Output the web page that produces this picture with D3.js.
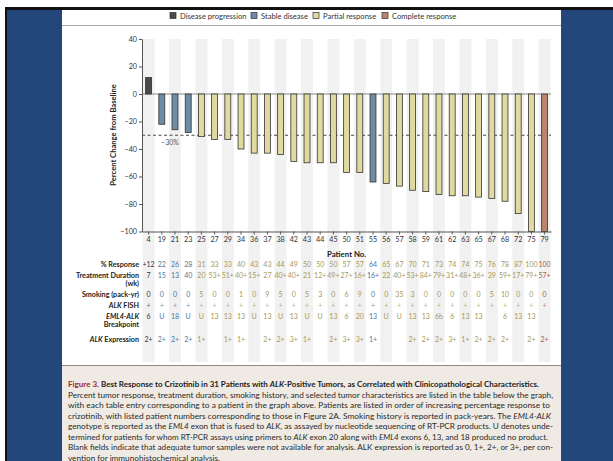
<!DOCTYPE html>
<html>
<head>
<meta charset="utf-8">
<script src="https://cdn.jsdelivr.net/npm/d3@7"></script>
<style>
  body { margin: 0; background: #fff; }
  svg { display: block; }
  text { font-family: Lato, "Open Sans", "DejaVu Sans", sans-serif; }
</style>
</head>
<body>
<svg id="fig" width="613" height="461"></svg>
<script>
// ---- Data -------------------------------------------------------------
const patients = ["4","19","21","23","25","27","29","34","36","37","38","42","43","44","45",
  "50","51","55","56","57","58","59","61","62","63","65","67","68","72","75","79"];
// Best percent change in tumour size from baseline
const percentChange = [12,-22,-26,-28,-31,-33,-33,-40,-43,-43,-44,-49,-50,-50,-50,
  -57,-57,-64,-65,-67,-70,-71,-73,-74,-74,-75,-76,-78,-87,-100,-100];
// PD = disease progression, SD = stable disease, PR = partial, CR = complete response
const outcome = ["PD","SD","SD","SD","PR","PR","PR","PR","PR","PR","PR","PR","PR","PR","PR",
  "PR","PR","SD","PR","PR","PR","PR","PR","PR","PR","PR","PR","PR","PR","PR","CR"];
const duration = ["7","15","13","40","20","53+","51+","40+","15+","27","40+","40+","21","12+","49+",
  "27+","16+","16+","22","40+","53+","84+","79+","31+","48+","36+","39","59+","17+","79+","57+"];
const smoking = ["0","0","0","0","5","0","0","1","0","9","5","0","5","3","0",
  "6","9","0","0","35","3","0","0","0","0","0","5","10","0","0","0"];
const alkFish = ["+","+","+","+","+","+","+","+","+","+","+","+","+","+","+",
  "+","+","+","+","+","+","+","+","+","+","+","+","+","+","+","+"];
const breakpoint = ["6","U","18","U","U","13","13","13","U","13","U","13","U","U","13",
  "6","20","13","U","U","13","13","6b","6","13","13","","6","13","13",""];
const alkExpression = ["2+","2+","2+","2+","1+","","1+","1+","","2+","2+","3+","1+","","2+",
  "3+","3+","1+","","","2+","2+","2+","3+","1+","2+","2+","2+","","2+","2+"];
const yTicks = [40, 20, 0, -20, -40, -60, -80, -100];
const outcomeKeys = ["PD","SD","PR","CR"];
const legendLabels = ["Disease progression","Stable disease","Partial response","Complete response"];
const threshold = -30;

// ---- Styles -------------------------------------------------------------
const barFill = d3.scaleOrdinal().domain(outcomeKeys).range(["#4a4a4a","#6f8ca6","#e0daa1","#bb846f"]);
const textFill = d3.scaleOrdinal().domain(outcomeKeys).range(["#3a3a3a","#4f77a0","#a89958","#a85e4b"]);

const svg = d3.select("#fig");

// Page frame
svg.append("rect").attr("width", 613).attr("height", 461).attr("fill", "#fff");
svg.append("rect").attr("x", 5).attr("y", 7).attr("width", 608).attr("height", 454).attr("fill", "#111");
svg.append("rect").attr("x", 7).attr("y", 10).attr("width", 606).attr("height", 451).attr("fill", "#23477a");
svg.append("rect").attr("x", 62).attr("y", 10).attr("width", 499).attr("height", 451).attr("fill", "#fff");
svg.append("line").attr("x1", 62).attr("x2", 561).attr("y1", 25.5).attr("y2", 25.5)
  .attr("stroke", "#a8a8a8").attr("stroke-width", 1);

// ---- Legend -------------------------------------------------------------
const legendX = [170, 251, 313, 382];
const legend = svg.append("g").selectAll("g").data(outcomeKeys).join("g")
  .attr("transform", (d, i) => `translate(${legendX[i]},16)`);
legend.append("rect").attr("x", 0).attr("y", -3.5).attr("width", 6).attr("height", 6)
  .attr("fill", d => barFill(d)).attr("stroke", "#333").attr("stroke-width", 0.7);
legend.append("text").attr("x", 10).attr("y", 2.5).attr("font-size", 7.6).attr("fill", "#333")
  .text((d, i) => legendLabels[i]);

// ---- Scales -------------------------------------------------------------
const x = d3.scaleBand().domain(patients).range([142, 551.2]).paddingInner(0.55).paddingOuter(0.275);
const stripe = d3.scaleBand().domain(patients).range([142, 551.2]).paddingInner(0.1).paddingOuter(0.05);
const y = d3.scaleLinear().domain([-100, 40]).range([231.5, 39]);

// Alternating column shading, running from the plot down through the table
svg.append("g").selectAll("rect").data(patients.filter((p, i) => i % 2 === 0)).join("rect")
  .attr("x", d => stripe(d)).attr("width", stripe.bandwidth())
  .attr("y", y(40)).attr("height", 362 - y(40)).attr("fill", "#f1f1f1");

// Reference lines
svg.append("line").attr("x1", 142).attr("x2", 551).attr("y1", y(0)).attr("y2", y(0))
  .attr("stroke", "#8a8a8a").attr("stroke-width", 1);
svg.append("line").attr("x1", 142).attr("x2", 551).attr("y1", y(threshold)).attr("y2", y(threshold))
  .attr("stroke", "#333").attr("stroke-width", 0.9).attr("stroke-dasharray", "3,2.5");
svg.append("text").attr("x", 170).attr("y", y(threshold) + 9.5).attr("text-anchor", "middle")
  .attr("font-size", 7).attr("fill", "#555").text("\u221230%");

// Bars
svg.append("g").selectAll("rect").data(patients).join("rect")
  .attr("x", d => x(d)).attr("width", x.bandwidth())
  .attr("y", (d, i) => y(Math.max(0, percentChange[i])))
  .attr("height", (d, i) => Math.abs(y(percentChange[i]) - y(0)))
  .attr("fill", (d, i) => barFill(outcome[i]))
  .attr("stroke", "#333").attr("stroke-width", 0.8);

// Axes
const yAxis = svg.append("g").attr("transform", "translate(142,0)")
  .call(d3.axisLeft(y).tickValues(yTicks).tickSize(3).tickSizeOuter(0).tickPadding(2));
const xAxis = svg.append("g").attr("transform", `translate(0,${y(-100)})`)
  .call(d3.axisBottom(x).tickSize(3).tickSizeOuter(0).tickPadding(2.5));
[yAxis, xAxis].forEach(a => {
  a.selectAll("path, line").attr("stroke", "#555");
  a.selectAll("text").attr("font-size", 7.2).attr("fill", "#333")
    .style("font-family", "Lato, 'Open Sans', sans-serif");
});

svg.append("text").attr("transform", "translate(116,135) rotate(-90)").attr("text-anchor", "middle")
  .attr("font-size", 7.6).attr("font-weight", "bold").attr("fill", "#222")
  .text("Percent Change from Baseline");

svg.append("text").attr("x", 327).attr("y", 257).attr("font-size", 7.8).attr("font-weight", "bold")
  .attr("fill", "#222").text("Patient No.");

// ---- Table below the chart ----------------------------------------------
const cx = p => x(p) + x.bandwidth() / 2;
const rows = [
  { y: 266.5, values: percentChange.map(v => v > 0 ? "+" + v : String(-v)), label: [["% Response", false]] },
  { y: 278, values: duration, label: [["Treatment Duration", false]], sub: "(wk)" },
  { y: 296.5, values: smoking, label: [["Smoking (pack-yr)", false]] },
  { y: 308, values: alkFish, label: [["ALK", true], [" FISH", false]], light: true },
  { y: 319, values: breakpoint, label: [["EML4-ALK", true]], sub: "Breakpoint" },
  { y: 341.5, values: alkExpression, label: [["ALK", true], [" Expression", false]] }
];

rows.forEach(r => {
  const lbl = svg.append("text").attr("x", 139).attr("y", r.y).attr("text-anchor", "end")
    .attr("font-size", 7.2).attr("font-weight", "bold").attr("fill", "#222");
  r.label.forEach(([t, it]) => lbl.append("tspan").attr("font-style", it ? "italic" : "normal").text(t));
  if (r.sub) {
    svg.append("text").attr("x", 139).attr("y", r.y + 8.2).attr("text-anchor", "end")
      .attr("font-size", 7.2).attr("font-weight", "bold").attr("fill", "#222").text(r.sub);
  }
  svg.append("g").selectAll("text").data(patients).join("text")
    .attr("x", d => cx(d)).attr("y", r.y).attr("text-anchor", "middle")
    .attr("font-size", 7).attr("fill", (d, i) => textFill(outcome[i]))
    .attr("opacity", r.light ? 0.75 : 1)
    .text((d, i) => r.values[i]);
});

// ---- Caption --------------------------------------------------------------
svg.append("rect").attr("x", 62).attr("y", 365).attr("width", 499).attr("height", 96).attr("fill", "#efeae3");
svg.append("line").attr("x1", 62).attr("x2", 561).attr("y1", 365.5).attr("y2", 365.5)
  .attr("stroke", "#8d8a86").attr("stroke-width", 1);

const title = svg.append("text").attr("x", 68).attr("y", 387).attr("font-size", 7.9)
  .attr("font-weight", "bold").attr("fill", "#222").attr("textLength", 471).attr("lengthAdjust", "spacingAndGlyphs");
title.append("tspan").attr("fill", "#a3262c").text("Figure 3. ");
title.append("tspan").text("Best Response to Crizotinib in 31 Patients with ");
title.append("tspan").attr("font-style", "italic").text("ALK");
title.append("tspan").text("-Positive Tumors, as Correlated with Clinicopathological Characteristics.");

const captionLines = [
  ["Percent tumor response, treatment duration, smoking history, and selected tumor characteristics are listed in the table below the graph,", 485],
  ["with each table entry corresponding to a patient in the graph above. Patients are listed in order of increasing percentage response to", 482],
  ["crizotinib, with listed patient numbers corresponding to those in Figure 2A. Smoking history is reported in pack-years. The *EML4-ALK*", 483],
  ["genotype is reported as the *EML4* exon that is fused to *ALK*, as assayed by nucleotide sequencing of RT-PCR products. U denotes unde-", 485],
  ["termined for patients for whom RT-PCR assays using primers to *ALK* exon 20 along with *EML4* exons 6, 13, and 18 produced no product.", 480],
  ["Blank fields indicate that adequate tumor samples were not available for analysis. ALK expression is reported as 0, 1+, 2+, or 3+, per con-", 485],
  ["vention for immunohistochemical analysis.", 152]
];
captionLines.forEach(([line, w], k) => {
  const t = svg.append("text").attr("x", 68).attr("y", 397.5 + k * 10.5).attr("font-size", 7.6)
    .attr("fill", "#2a2a2a").attr("textLength", w).attr("lengthAdjust", "spacingAndGlyphs");
  line.split("*").forEach((seg, j) => {
    if (seg) t.append("tspan").attr("font-style", j % 2 ? "italic" : "normal").text(seg);
  });
});
</script>
</body>
</html>
